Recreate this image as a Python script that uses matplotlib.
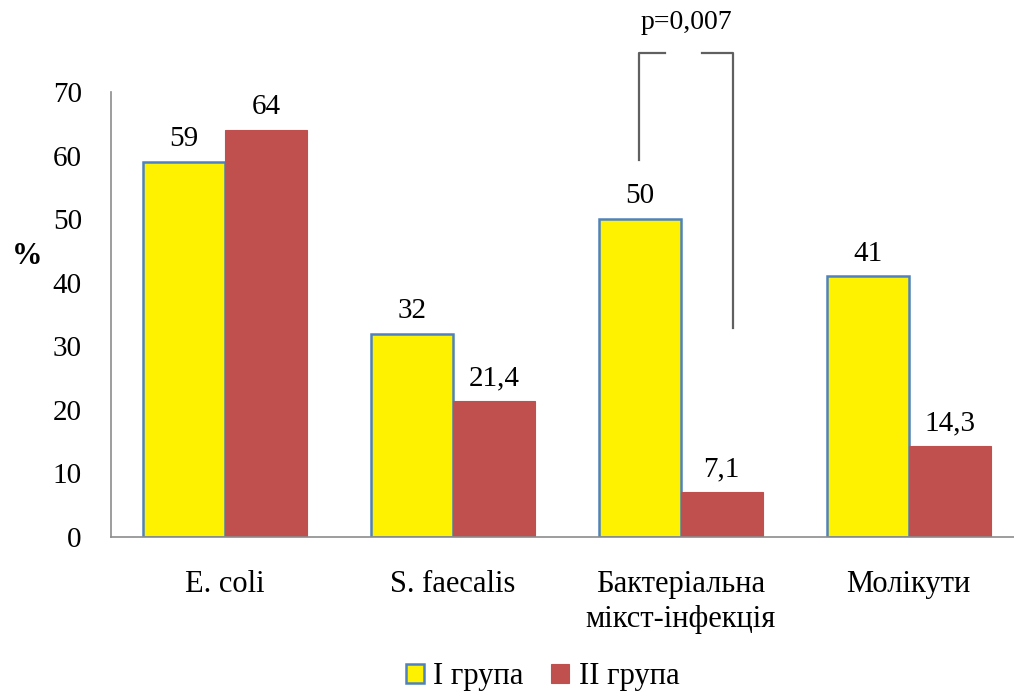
import matplotlib.pyplot as plt
import numpy as np

plt.rcParams['font.family'] = ['Liberation Serif', 'DejaVu Serif']

categories = ['E. coli', 'S. faecalis', 'Бактеріальна\nмікст-інфекція', 'Молікути']
group1 = [59, 32, 50, 41]
group2 = [64, 21.4, 7.1, 14.3]
series_names = ['І група', 'ІІ група']

fig = plt.figure(figsize=(10.14, 6.98), dpi=100)
ax = fig.add_axes([0.1095, 0.2307, 0.899, 0.6375])

x = np.arange(len(categories))
w = 0.36
b1 = ax.bar(x - w / 2, group1, w, color='#FFF200', edgecolor='#4F81BD', linewidth=1.8, label=series_names[0])
b2 = ax.bar(x + w / 2, group2, w, color='#C0504D', edgecolor='#C0504D', linewidth=0.8, label=series_names[1])

def fmt(v):
    return ('%g' % v).replace('.', ',')

for bars, vals in ((b1, group1), (b2, group2)):
    for rect, v in zip(bars, vals):
        ax.annotate(fmt(v), (rect.get_x() + rect.get_width() / 2, v),
                    xytext=(0, 7), textcoords='offset points',
                    ha='center', va='bottom', fontsize=21)

ax.set_xlim(-0.5, 3.5)
ax.set_ylim(0, 70)
ax.set_yticks(range(0, 71, 10))
ax.set_xticks(x)
ax.set_xticklabels(categories, va='top', linespacing=1.25)
ax.tick_params(axis='y', length=0, pad=21, labelsize=21)
ax.tick_params(axis='x', length=0, pad=24, labelsize=22)
for s in ('top', 'right'):
    ax.spines[s].set_visible(False)
for s in ('left', 'bottom'):
    ax.spines[s].set_color('#8C8C8C')
    ax.spines[s].set_linewidth(1.2)

# significance bracket between the two mixed-infection bars
lc = '#606060'
ax.plot([1.816, 1.816, 1.93], [59.3, 76.1, 76.1], color=lc, lw=1.6, clip_on=False)
ax.plot([2.092, 2.228, 2.228], [76.1, 76.1, 32.9], color=lc, lw=1.6, clip_on=False)
ax.text(2.026, 81.0, 'p=0,007', ha='center', va='center', fontsize=20, clip_on=False)

fig.text(0.012, 0.632, '%', fontsize=22, fontweight='bold', ha='left', va='center')

fig.legend(handles=[b1, b2], labels=series_names, loc='lower center',
           bbox_to_anchor=(0.535, -0.03), ncol=2, frameon=False, fontsize=22,
           handlelength=0.6, handleheight=0.6, handletextpad=0.3, columnspacing=0.9)

fig.savefig('out.png', dpi=100)
